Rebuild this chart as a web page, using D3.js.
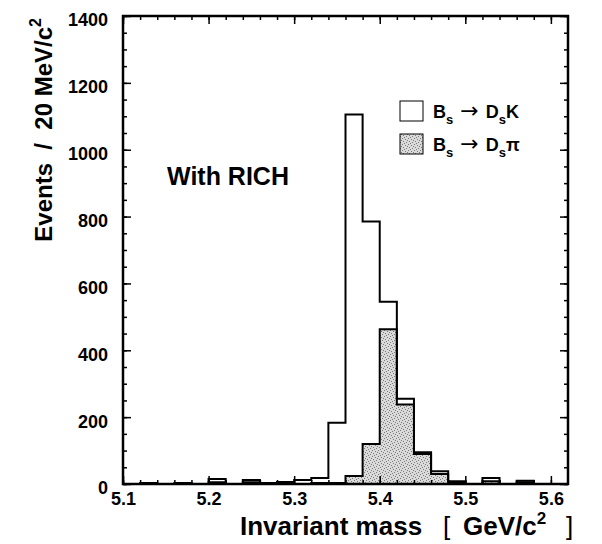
<!DOCTYPE html>
<html lang="en">
<head>
<meta charset="UTF-8">
<title>Bs invariant mass with RICH</title>
<script src="https://d3js.org/d3.v7.min.js"></script>
<style>
    body { margin: 0; background: #fff; }
    svg text {
        font-family: "Liberation Sans", Arial, Helvetica, sans-serif;
        font-weight: bold;
        fill: #000;
    }
    svg text .arrow {
        font-family: "DejaVu Sans", sans-serif;
        font-weight: normal;
        font-size: 22px;
    }
</style>
</head>
<body>
<svg id="chart" width="602" height="544"></svg>
<script>
// lower edges of the 20 MeV bins (GeV/c^2)
const binEdges = [5.10, 5.12, 5.14, 5.16, 5.18, 5.20, 5.22, 5.24, 5.26, 5.28,
                  5.30, 5.32, 5.34, 5.36, 5.38, 5.40, 5.42, 5.44, 5.46, 5.48,
                  5.50, 5.52, 5.54, 5.56, 5.58, 5.60];
const binWidth = 0.02;
// Bs -> Ds K (open histogram)
const dsK  = [0, 3, 0, 3, 0, 15, 0, 12, 3, 6,
              12, 18, 183, 1105, 785, 545, 255, 95, 38, 8,
              0, 18, 0, 10, 0, 0];
// Bs -> Ds pi (shaded histogram)
const dsPi = [0, 0, 0, 0, 0, 5, 0, 5, 0, 0,
              0, 3, 3, 24, 120, 463, 238, 90, 30, 5,
              0, 8, 0, 5, 0, 0];
const xTicks = [5.1, 5.2, 5.3, 5.4, 5.5, 5.6];
const yTicks = [0, 200, 400, 600, 800, 1000, 1200, 1400];

const svg = d3.select("#chart");
const plotL = 123, plotR = 568, plotT = 16, plotB = 484;

const x = d3.scaleLinear().domain([5.1, 5.62]).range([plotL, plotR]);
const y = d3.scaleLinear().domain([0, 1400]).range([plotB, plotT]);

// stipple pattern for the shaded histogram
const defs = svg.append("defs");
const pat = defs.append("pattern")
    .attr("id", "stipple")
    .attr("patternUnits", "userSpaceOnUse")
    .attr("width", 6).attr("height", 6);
pat.append("rect").attr("width", 6).attr("height", 6).attr("fill", "#dadada");
[[0, 0], [3, 1], [1, 3], [4, 4], [5, 2], [2, 5]].forEach(p => {
    pat.append("rect").attr("x", p[0]).attr("y", p[1])
        .attr("width", 1).attr("height", 1).attr("fill", "#7a7a7a");
});

function steps(vals) {
    const pts = binEdges.map((lo, i) => ({ x: lo, v: vals[i] }));
    pts.push({ x: binEdges[binEdges.length - 1] + binWidth, v: vals[vals.length - 1] });
    return pts;
}

const area = d3.area()
    .curve(d3.curveStepAfter)
    .x(d => x(d.x)).y0(y(0)).y1(d => y(d.v));
const line = d3.line()
    .curve(d3.curveStepAfter)
    .x(d => x(d.x)).y(d => y(d.v));

// shaded Ds pi
svg.append("path")
    .datum(steps(dsPi))
    .attr("fill", "url(#stipple)")
    .attr("d", area);
svg.append("path")
    .datum(steps(dsPi))
    .attr("fill", "none").attr("stroke", "#000").attr("stroke-width", 2)
    .attr("d", line);

// open Ds K
svg.append("path")
    .datum(steps(dsK))
    .attr("fill", "none").attr("stroke", "#000").attr("stroke-width", 2)
    .attr("d", line);

// axes: ticks inward on all four sides
const xMinor = d3.range(0, 26).map(i => 5.1 + i * 0.02);
const yMinor = d3.range(0, 29).map(i => i * 50);

function addAxis(axisFn, scale, pos, values, size, fmt) {
    const ax = axisFn(scale).tickValues(values).tickSize(-size)
        .tickFormat(fmt ? d3.format(fmt) : "");
    const g = svg.append("g").attr("transform", pos).call(ax);
    g.select(".domain").remove();
    g.selectAll("line").attr("stroke", "#000").attr("stroke-width", 1.5);
    return g;
}

const gx = addAxis(d3.axisBottom, x, `translate(0,${plotB})`, xTicks, 8, ".1f");
gx.selectAll("text").attr("font-size", 18).attr("y", 8).attr("dy", "0.71em");
addAxis(d3.axisBottom, x, `translate(0,${plotB})`, xMinor, 4, null);
addAxis(d3.axisTop, x, `translate(0,${plotT})`, xTicks, 8, null);
addAxis(d3.axisTop, x, `translate(0,${plotT})`, xMinor, 4, null);

const gy = addAxis(d3.axisLeft, y, `translate(${plotL},0)`, yTicks, 8, "d");
gy.selectAll("text").attr("font-size", 18).attr("x", -15).attr("dy", "0.55em");
addAxis(d3.axisLeft, y, `translate(${plotL},0)`, yMinor, 4, null);
addAxis(d3.axisRight, y, `translate(${plotR},0)`, yTicks, 8, null);
addAxis(d3.axisRight, y, `translate(${plotR},0)`, yMinor, 4, null);

// frame
svg.append("rect")
    .attr("x", plotL).attr("y", plotT)
    .attr("width", plotR - plotL).attr("height", plotB - plotT)
    .attr("fill", "none").attr("stroke", "#000").attr("stroke-width", 2.5);

// axis titles
const xt = svg.append("text")
    .attr("y", 535)
    .attr("font-size", 26)
    .style("white-space", "pre");
xt.append("tspan").attr("x", 240).text("Invariant mass");
xt.append("tspan").attr("x", 443).attr("font-weight", "normal").text("[");
xt.append("tspan").attr("x", 463).text("GeV/c");
xt.append("tspan").attr("font-size", 17).attr("dy", -11).text("2");
xt.append("tspan").attr("x", 566).attr("font-weight", "normal").attr("dy", 11).text("]");

const yt = svg.append("text")
    .attr("transform", "translate(52,18) rotate(-90)")
    .attr("text-anchor", "end")
    .attr("font-size", 24)
    .style("white-space", "pre");
yt.append("tspan").text("Events  /  20 MeV/c");
yt.append("tspan").attr("font-size", 16).attr("dy", -11).text("2");

// annotation
svg.append("text")
    .attr("x", 167).attr("y", 185)
    .attr("font-size", 25)
    .text("With RICH");

// legend
const legend = [
    { fill: "#fff", prod: "K", y: 101 },
    { fill: "url(#stipple)", prod: "\u03c0", y: 134 }
];
legend.forEach(d => {
    svg.append("rect")
        .attr("x", 400).attr("y", d.y).attr("width", 23).attr("height", 20)
        .attr("fill", d.fill).attr("stroke", "#000").attr("stroke-width", 1);
    const t = svg.append("text")
        .attr("x", 433).attr("y", d.y + 17)
        .attr("font-size", 18)
        .style("white-space", "pre");
    t.append("tspan").text("B");
    t.append("tspan").attr("font-size", 13).attr("dy", 6).text("s");
    t.append("tspan").attr("class", "arrow").attr("dy", -6).text(" \u2192 ");
    t.append("tspan").text("D");
    t.append("tspan").attr("font-size", 13).attr("dy", 6).text("s");
    t.append("tspan").attr("dy", -6).text(d.prod);
});
</script>
</body>
</html>
